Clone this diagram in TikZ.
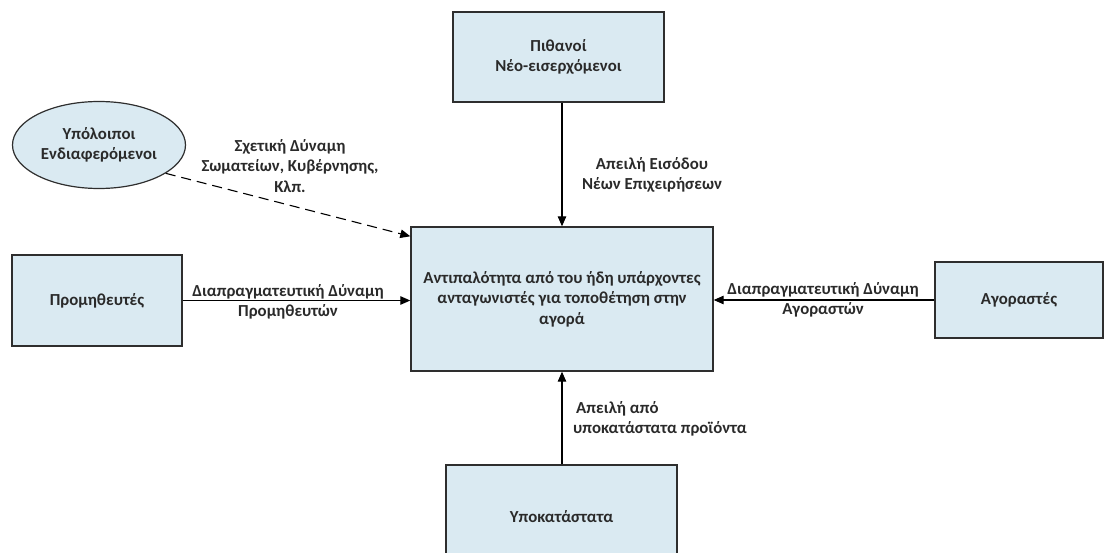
\documentclass[tikz,border=0pt]{standalone}
\usepackage{fontspec}
\setmainfont{Carlito}
\usetikzlibrary{shapes.geometric,arrows.meta,calc}
\definecolor{boxfill}{HTML}{DAEAF2}
\definecolor{boxline}{HTML}{2E2E2E}
\definecolor{txt}{HTML}{2A2A2A}
\tikzset{
  txtfont/.style={font=\bfseries\fontsize{16.8}{20.5}\selectfont, text=txt},
  box/.style={draw=boxline, line width=1.4pt, fill=boxfill, rectangle, align=center,
    txtfont, inner sep=0pt},
  ellbox/.style={draw=boxline, line width=1.2pt, fill=boxfill, ellipse, align=center,
    txtfont, inner sep=0pt},
  arr/.style={draw=black, line width=1.1pt, -{Triangle[length=10pt,width=8.5pt]}},
  lbl/.style={align=center, txtfont, inner sep=0pt},
}
\begin{document}
\begin{tikzpicture}[x=1pt,y=-1pt]
\useasboundingbox (0,0) rectangle (1105,553);
\node[box, minimum width=211, minimum height=90] (top) at (558.5,57) {Πιθανοί\\Νέο-εισερχόμενοι};
\node[box, minimum width=302, minimum height=144] (center) at (562,299) {Αντιπαλότητα από του ήδη υπάρχοντες\\ανταγωνιστές για τοποθέτηση στην\\αγορά};
\node[box, minimum width=170, minimum height=91] (left) at (97,300.5) {Προμηθευτές};
\node[box, minimum width=168, minimum height=76] (right) at (1019,300) {Αγοραστές};
\node[box, minimum width=231, minimum height=110] (bottom) at (561.5,520) {\raisebox{8pt}{Υποκατάστατα}};
\node[ellbox, minimum width=173, minimum height=87] (ell) at (99,145) {Υπόλοιποι\\Ενδιαφερόμενοι};
\coordinate (dtgt) at ($(center.north west)+(0,10)$);

\draw[arr] (top.south -| center.north) -- (center.north);
\draw[arr] (left.east) -- (left.east -| center.west);
\draw[arr] (right.west) -- (right.west -| center.east);
\draw[arr] (bottom.north -| center.south) -- (center.south);
\draw[arr, dash pattern=on 10pt off 6pt] (ell.-23) -- (dtgt);

\node[lbl] (ltop) at (652,175) {Απειλή Εισόδου\\Νέων Επιχειρήσεων};
\node[lbl] (lell) at (290,166) {Σχετική Δύναμη\\Σωματείων, Κυβέρνησης,\\Κλπ.};
\node[lbl] (lleft) at (288,302) {Διαπραγματευτική Δύναμη\\Προμηθευτών};
\node[lbl] (lright) at (823,300) {Διαπραγματευτική Δύναμη\\Αγοραστών};
\node[lbl, align=left, anchor=west] (lbot) at (573,419) {\hspace{3pt}Απειλή από\\υποκατάστατα προϊόντα};
\end{tikzpicture}
\end{document}
